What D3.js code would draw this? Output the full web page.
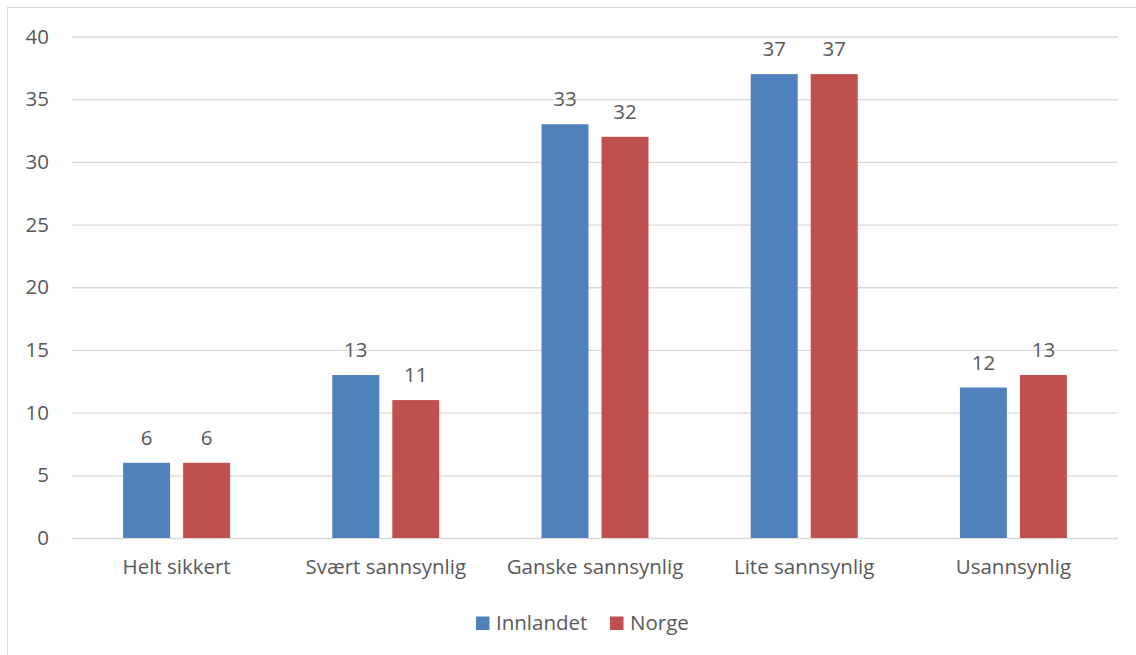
<!DOCTYPE html>
<html><head><meta charset="utf-8">
<script src="https://cdn.jsdelivr.net/npm/d3@7"></script>
<style>body{margin:0;background:#fff}svg{display:block}text{font-family:"Open Sans",sans-serif;fill:#595959}</style>
</head><body>
<script>
const categories = ["Helt sikkert","Svært sannsynlig","Ganske sannsynlig","Lite sannsynlig","Usannsynlig"];
const seriesNames = ["Innlandet","Norge"];
const innlandet = [6,13,33,37,12];
const norge = [6,11,32,37,13];
const yTicks = [0,5,10,15,20,25,30,35,40];
const colors = ["#4F81BD","#C0504D"];

const W=1136,H=655, FS=20.5;
const svg=d3.select("body").append("svg").attr("width",W).attr("height",H);
svg.append("rect").attr("x",7.5).attr("y",7.5).attr("width",W+10).attr("height",H+10)
  .attr("fill","none").attr("stroke","#D9D9D9").attr("stroke-width",1);

const x0=d3.scaleBand().domain(categories).range([72,1118]).padding(0);
const bw=x0.bandwidth();
const x1=d3.scaleBand().domain(seriesNames).range([bw/2-60,bw/2+60]).paddingInner(0.217).paddingOuter(0.1085);
const y=d3.scaleLinear().domain([0,40]).range([538,36.5]);

const yAxis=svg.append("g").attr("transform","translate(72,0)")
  .call(d3.axisLeft(y).tickValues(yTicks).tickSize(-(1118-72)).tickPadding(23));
yAxis.select(".domain").remove();
yAxis.selectAll("line").attr("stroke","#D9D9D9").attr("stroke-width",1.3);
yAxis.selectAll("text").attr("font-size",FS).style("font-family","'Open Sans',sans-serif").attr("fill","#595959");

const data=categories.map((c,i)=>({c,vals:[innlandet[i],norge[i]]}));
const g=svg.append("g");
const groups=g.selectAll("g").data(data).join("g").attr("transform",d=>`translate(${x0(d.c)},0)`);
groups.selectAll("rect").data(d=>d.vals.map((v,j)=>({s:seriesNames[j],v,j}))).join("rect")
  .attr("x",d=>x1(d.s)).attr("width",x1.bandwidth())
  .attr("y",d=>y(d.v)).attr("height",d=>y(0)-y(d.v)).attr("fill",d=>colors[d.j]);
groups.selectAll("text.val").data(d=>d.vals.map((v,j)=>({s:seriesNames[j],v,j}))).join("text")
  .attr("class","val").attr("x",d=>x1(d.s)+x1.bandwidth()/2).attr("y",d=>y(d.v)-18)
  .attr("text-anchor","middle").attr("font-size",FS).text(d=>d.v);

const xAxis=svg.append("g").attr("transform","translate(0,538)")
  .call(d3.axisBottom(x0).tickSize(0).tickPadding(21));
xAxis.select(".domain").remove();
xAxis.selectAll("text").attr("font-size",FS).style("font-family","'Open Sans',sans-serif").attr("fill","#595959");

const leg=svg.append("g");
const legX=[476,610];
seriesNames.forEach((s,i)=>{
  leg.append("rect").attr("x",legX[i]).attr("y",616.5).attr("width",13.5).attr("height",13.5).attr("fill",colors[i]);
  leg.append("text").attr("x",legX[i]+20).attr("y",630).attr("font-size",FS).text(s);
});
</script>
</body></html>
